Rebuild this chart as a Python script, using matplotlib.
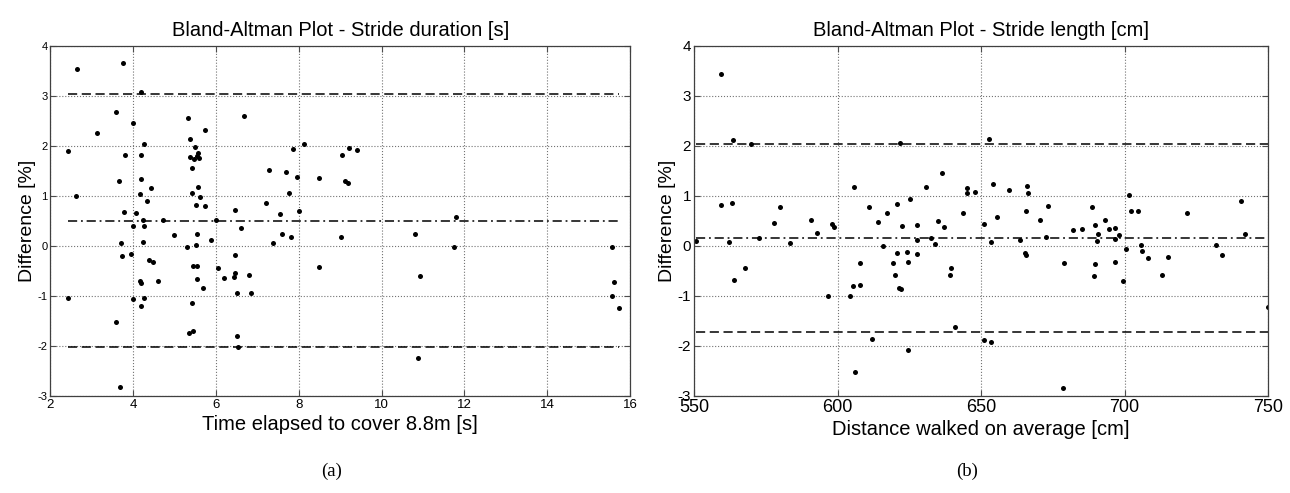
import numpy as np
import matplotlib.pyplot as plt

plt.rcParams['font.family'] = ['Liberation Sans', 'DejaVu Sans']
plt.rcParams['axes.unicode_minus'] = False

# (a) stride duration: time elapsed [s] vs difference [%]
dur_x = [2.63, 3.76, 4.20, 3.58, 3.12, 4.00, 2.43, 3.81, 4.26, 4.19, 3.66, 4.19,
         2.61, 4.17, 4.42, 4.33, 3.78, 4.06, 4.24, 4.71, 4.00, 4.27, 5.33, 5.73,
         5.37, 5.49, 5.37, 5.47, 5.53, 5.57, 5.59, 5.43, 5.56, 5.43, 5.62, 5.51,
         5.73, 6.01, 6.68, 6.45, 6.61, 7.29, 7.68, 7.85, 8.13, 7.95, 8.50, 7.77,
         7.21, 7.54, 8.00, 9.05, 9.22, 9.41, 9.11, 9.18, 11.81, 3.70, 3.74, 3.95,
         4.23, 4.38, 4.47, 4.17, 4.20, 4.60, 4.98, 5.31, 5.51, 5.55, 5.88, 5.45,
         5.53, 5.54, 5.69, 6.05, 6.20, 6.45, 6.45, 6.43, 6.51, 6.80, 6.84, 7.37,
         7.59, 7.81, 8.49, 2.42, 3.99, 4.26, 4.19, 3.59, 5.43, 5.35, 5.45, 6.50,
         6.54, 3.68, 9.02, 10.80, 11.75, 10.94, 15.56, 15.62, 15.56, 15.73, 10.88]
dur_y = [3.53, 3.65, 3.07, 2.68, 2.25, 2.45, 1.89, 1.81, 2.04, 1.82, 1.29, 1.33,
         0.99, 1.03, 1.15, 0.89, 0.67, 0.66, 0.52, 0.52, 0.39, 0.39, 2.55, 2.32,
         2.13, 1.98, 1.77, 1.73, 1.79, 1.85, 1.75, 1.56, 1.17, 1.06, 0.97, 0.82,
         0.79, 0.52, 2.59, 0.71, 0.35, 1.51, 1.47, 1.93, 2.03, 1.37, 1.35, 1.06,
         0.85, 0.64, 0.70, 1.81, 1.95, 1.91, 1.29, 1.25, 0.57, 0.06, -0.21, -0.17,
         0.07, -0.29, -0.33, -0.70, -0.74, -0.71, 0.21, -0.03, 0.01, 0.23, 0.11, -0.41,
         -0.41, -0.67, -0.85, -0.45, -0.64, -0.19, -0.54, -0.62, -0.95, -0.59, -0.95, 0.06,
         0.23, 0.17, -0.42, -1.04, -1.06, -1.05, -1.21, -1.52, -1.15, -1.74, -1.71, -1.80,
         -2.03, -2.82, 0.17, 0.23, -0.03, -0.61, -0.03, -0.73, -1.00, -1.25, -2.25]
dur_mean, dur_upper, dur_lower = 0.50, 3.04, -2.03

# (b) stride length: distance walked [cm] vs difference [%]
len_x = [559.5, 563.7, 569.8, 559.3, 563.2, 580.1, 578.0, 590.7, 598.2, 598.8,
         605.7, 611.1, 614.0, 617.3, 620.6, 625.1, 621.8, 622.6, 627.6, 630.7,
         635.0, 636.4, 637.0, 643.8, 645.2, 645.0, 550.6, 562.1, 563.8, 567.9,
         572.5, 583.4, 592.9, 596.7, 604.5, 605.4, 607.7, 607.7, 615.7, 612.1,
         606.2, 619.4, 620.6, 620.1, 621.4, 622.2, 624.1, 624.7, 627.6, 627.6,
         624.6, 632.6, 633.9, 639.5, 639.3, 640.9, 652.9, 648.0, 651.0, 654.0,
         655.7, 659.8, 665.9, 666.2, 665.7, 670.5, 673.2, 681.9, 685.0, 688.7,
         689.7, 693.2, 694.6, 696.8, 701.6, 702.3, 704.8, 721.7, 740.5, 653.4,
         663.4, 665.3, 665.7, 672.7, 679.0, 690.6, 690.4, 689.6, 689.2, 696.6,
         698.2, 696.6, 699.6, 700.5, 705.6, 706.2, 708.3, 713.2, 715.3, 731.8,
         734.1, 741.9, 750.0, 650.9, 653.5, 678.5]
len_y = [3.43, 2.11, 2.03, 0.82, 0.85, 0.77, 0.45, 0.51, 0.43, 0.37,
         1.17, 0.78, 0.48, 0.66, 0.83, 0.94, 2.05, 0.39, 0.41, 1.18,
         0.50, 1.46, 0.37, 0.65, 1.16, 1.05, 0.09, 0.07, -0.69, -0.45,
         0.15, 0.05, 0.25, -1.01, -1.00, -0.81, -0.79, -0.35, -0.01, -1.87,
         -2.53, -0.35, -0.15, -0.59, -0.85, -0.87, -0.12, -0.33, 0.11, -0.17,
         -2.08, 0.15, 0.03, -0.45, -0.59, -1.62, 2.13, 1.07, 0.43, 1.23,
         0.57, 1.11, 1.19, 1.06, 0.70, 0.51, 0.79, 0.31, 0.33, 0.77,
         0.41, 0.52, 0.33, 0.36, 1.01, 0.69, 0.69, 0.66, 0.89, 0.07,
         0.11, -0.15, -0.19, 0.17, -0.35, 0.23, 0.09, -0.37, -0.61, 0.13,
         0.21, -0.33, -0.71, -0.07, 0.02, -0.11, -0.25, -0.59, -0.23, 0.02,
         -0.19, 0.24, -1.23, -1.89, -1.93, -2.84]
len_mean, len_upper, len_lower = 0.15, 2.03, -1.72


def ba_panel(ax, x, y, mean, upper, lower, xlim, xticks, title, xlabel,
             xtick_size, ytick_size):
    x0, x1 = min(x), max(x)
    ax.plot([x0, x1], [upper, upper], color='k', ls=(0, (6, 3)), lw=1.1)
    ax.plot([x0, x1], [lower, lower], color='k', ls=(0, (6, 3)), lw=1.1)
    ax.plot([x0, x1], [mean, mean], color='k', ls=(0, (6, 2.5, 1.2, 2.5)), lw=1.1)
    ax.plot(x, y, 'o', color='k', markersize=3.6, markeredgewidth=0)
    ax.set_xlim(xlim)
    ax.set_ylim(-3, 4)
    ax.set_xticks(xticks)
    ax.set_yticks(range(-3, 5))
    ax.grid(True, color='0.45', ls=':', lw=0.8)
    ax.tick_params(direction='in', top=True, right=True, length=4, width=0.8,
                   color='0.3', pad=2)
    ax.tick_params(axis='x', labelsize=xtick_size)
    ax.tick_params(axis='y', labelsize=ytick_size)
    for s in ax.spines.values():
        s.set_color('0.25')
        s.set_linewidth(0.9)
    ax.set_title(title, fontsize=14.5, pad=7)
    ax.set_xlabel(xlabel, fontsize=14.5, labelpad=3)
    ax.set_ylabel('Difference [%]', fontsize=14, labelpad=1)


fig = plt.figure(figsize=(12.9, 4.93), dpi=100)
ax1 = fig.add_axes([0.0391, 0.197, 0.4492, 0.710])
ax2 = fig.add_axes([0.538, 0.197, 0.4450, 0.710])

ba_panel(ax1, dur_x, dur_y, dur_mean, dur_upper, dur_lower, (2, 16),
         range(2, 17, 2), 'Bland-Altman Plot - Stride duration [s]',
         'Time elapsed to cover 8.8m [s]', 9.5, 8)
ba_panel(ax2, len_x, len_y, len_mean, len_upper, len_lower, (550, 750),
         range(550, 751, 50), 'Bland-Altman Plot - Stride length [cm]',
         'Distance walked on average [cm]', 13, 11)

fig.text(0.257, 0.035, '(a)', fontsize=13.5, family='Liberation Serif', ha='center')
fig.text(0.750, 0.035, '(b)', fontsize=13.5, family='Liberation Serif', ha='center')

fig.savefig('out.png', dpi=100)
